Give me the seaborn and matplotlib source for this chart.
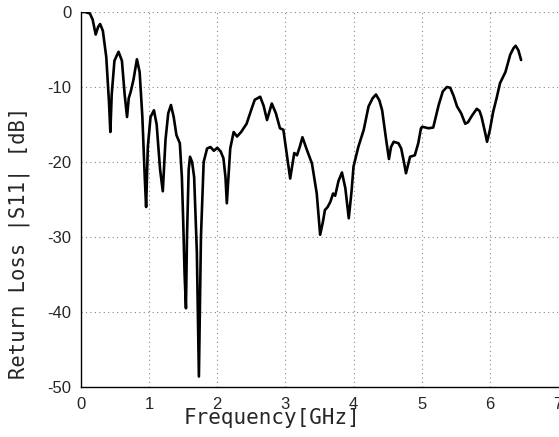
import matplotlib
matplotlib.use("Agg")
import matplotlib.pyplot as plt
import seaborn as sns
import pandas as pd

freq_ghz = [0.00, 0.06, 0.13, 0.17, 0.215, 0.25, 0.28, 0.32, 0.37, 0.41, 0.43, 0.45, 0.49, 0.55, 0.60,
            0.64, 0.675, 0.70, 0.73, 0.77, 0.82, 0.86, 0.90, 0.935, 0.955, 0.98, 1.02, 1.07, 1.11,
            1.16, 1.20, 1.24, 1.28, 1.32, 1.36, 1.40, 1.45, 1.48, 1.50, 1.52, 1.54, 1.555, 1.58, 1.60,
            1.63, 1.66, 1.70, 1.73, 1.76, 1.80, 1.85, 1.90, 1.95, 2.00, 2.05, 2.09, 2.12, 2.14, 2.17,
            2.19, 2.24, 2.29, 2.35, 2.43, 2.50, 2.55, 2.63, 2.68, 2.73, 2.80, 2.86, 2.92, 2.97, 3.02,
            3.07, 3.13, 3.17, 3.21, 3.25, 3.32, 3.39, 3.46, 3.51, 3.55, 3.58, 3.62, 3.66, 3.70, 3.73,
            3.78, 3.83, 3.88, 3.93, 3.97, 4.00, 4.07, 4.15, 4.22, 4.28, 4.33, 4.38, 4.42, 4.48, 4.52,
            4.55, 4.59, 4.66, 4.70, 4.74, 4.77, 4.83, 4.90, 4.95, 4.99, 5.01, 5.10, 5.17, 5.25, 5.31,
            5.37, 5.42, 5.47, 5.52, 5.58, 5.64, 5.68, 5.74, 5.81, 5.85, 5.88, 5.93, 5.96, 6.00, 6.05,
            6.10, 6.15, 6.23, 6.30, 6.35, 6.38, 6.42, 6.46]
s11_db = [0.0, 0.0, -0.2, -1.0, -3.0, -2.0, -1.6, -2.5, -6.0, -12.0, -16.0, -11.0, -6.5, -5.3, -6.5,
          -11.0, -14.0, -11.5, -10.6, -9.0, -6.3, -8.0, -14.0, -22.0, -26.0, -18.0, -14.0, -13.1, -15.0,
          -21.0, -23.9, -17.0, -13.5, -12.4, -14.0, -16.4, -17.5, -22.0, -28.0, -35.0, -39.5, -30.0, -21.0, -19.3,
          -20.0, -22.0, -32.0, -48.6, -30.0, -20.0, -18.2, -18.0, -18.5, -18.1, -18.6, -19.5, -22.0, -25.5, -21.0,
          -18.2, -16.0, -16.6, -16.0, -14.9, -13.0, -11.7, -11.3, -12.5, -14.4, -12.2, -13.5, -15.5, -15.7, -19.0,
          -22.2, -18.8, -19.1, -18.0, -16.7, -18.5, -20.2, -24.2, -29.7, -28.0, -26.4, -26.0, -25.3, -24.2, -24.5,
          -22.5, -21.4, -23.5, -27.5, -24.0, -20.6, -18.0, -15.7, -12.6, -11.5, -11.0, -11.8, -13.1, -17.1, -19.6,
          -18.0, -17.3, -17.5, -18.2, -20.0, -21.5, -19.3, -19.1, -17.5, -15.5, -15.3, -15.5, -15.4, -12.4, -10.6,
          -10.0, -10.1, -11.2, -12.6, -13.5, -14.9, -14.7, -13.8, -12.9, -13.2, -14.0, -16.0, -17.3, -15.8, -13.3,
          -11.5, -9.5, -8.0, -5.7, -4.8, -4.5, -5.1, -6.4]
x_ticks = [0, 1, 2, 3, 4, 5, 6, 7]
y_ticks = [-50, -40, -30, -20, -10, 0]
x_label = "Frequency[GHz]"
y_label = "Return Loss |S11| [dB]"

df = pd.DataFrame({"freq": freq_ghz, "s11": s11_db})

sns.set_style("white")
plt.rcParams["font.family"] = ["Liberation Sans", "DejaVu Sans"]
plt.rcParams["axes.unicode_minus"] = False

fig = plt.figure(figsize=(5.59, 4.37), dpi=100)
ax = fig.add_axes([0.145, 0.1144, 0.853, 0.8581])
sns.lineplot(data=df, x="freq", y="s11", ax=ax, color="black", linewidth=1.9, sort=False)

ax.set_xlim(0, 7)
ax.set_ylim(-50, 0)
ax.set_xticks(x_ticks)
ax.set_yticks(y_ticks)
ax.grid(True, linestyle=(0, (1, 3)), color="#888888", linewidth=0.8)
for s in ["top", "right"]:
    ax.spines[s].set_visible(False)
for s in ["left", "bottom"]:
    ax.spines[s].set_color("black")
    ax.spines[s].set_linewidth(1.0)
ax.tick_params(direction="in", length=4, width=0.8, labelsize=12, pad=7)
ax.set_xlabel(x_label, family="DejaVu Sans Mono", fontsize=15)
ax.set_ylabel(y_label, family="DejaVu Sans Mono", fontsize=14.8)
ax.xaxis.set_label_coords(0.40, -0.055, transform=ax.transAxes)
ax.xaxis.label.set_va("top")
ax.yaxis.set_label_coords(-0.13, 0.384, transform=ax.transAxes)
ax.yaxis.label.set_va("center")

fig.savefig("out.png", dpi=100)
